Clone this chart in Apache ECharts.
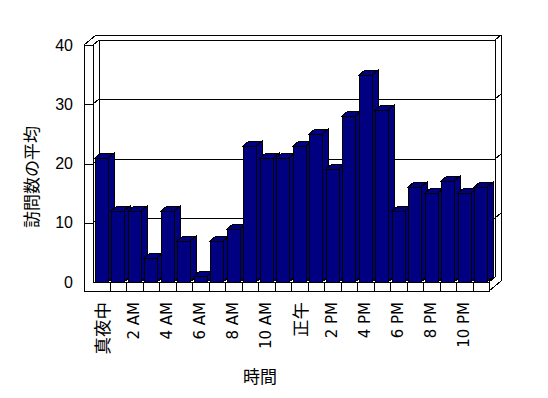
<!DOCTYPE html>
<html>
<head>
<meta charset="utf-8">
<script src="https://cdn.jsdelivr.net/npm/echarts@6/dist/echarts.min.js"></script>
<style>
html,body{margin:0;padding:0;background:#fff;}
#chart{width:548px;height:398px;}
#chart svg path, #chart svg polygon, #chart svg polyline, #chart svg line, #chart svg rect{shape-rendering:crispEdges;}
</style>
</head>
<body>
<div id="chart"></div>
<script>
const categories = ['真夜中','1 AM','2 AM','3 AM','4 AM','5 AM','6 AM','7 AM','8 AM','9 AM','10 AM','11 AM',
  '正午','1 PM','2 PM','3 PM','4 PM','5 PM','6 PM','7 PM','8 PM','9 PM','10 PM','11 PM'];
const visits = [21,12,12,4,12,7,1,7,9,23,21,21,23,25,19,28,35,29,12,16,15,17,15,16];
const yTicks = [0,10,20,30,40];
const yTitle = '訪問数の平均';
const xTitle = '時間';

const DX = 6, DY = -5;      // depth offset
const WALL = 9;             // wall thickness (front face)
const FONT = '"Liberation Sans","Noto Sans CJK JP",sans-serif';
const XFONT = '"DejaVu Sans","Noto Sans CJK JP",sans-serif';
const JFONT = '"Noto Sans CJK JP",sans-serif';
const R = v => Math.round(v);

const chart = echarts.init(document.getElementById('chart'), null, {renderer:'svg'});

function line(pts){
  return {type:'polyline', shape:{points:pts.map(p=>[R(p[0]),R(p[1])])},
          style:{stroke:'#000', lineWidth:1, fill:null}, silent:true};
}

function renderFrame(params, api){
  const band = api.size([1,0])[0];
  const x0 = api.coord([0,0])[0] - band/2;
  const x1 = api.coord([categories.length-1,0])[0] + band/2;
  const yMax = yTicks[yTicks.length-1];
  const yTop = api.coord([0,yMax])[1];
  const y0 = api.coord([0,0])[1];
  const xo = x0 - WALL, yb = y0 + WALL;
  const ch = [];
  ch.push(line([[xo+2*DX, yTop+2*DY],[x1+2*DX, yTop+2*DY],[x1+2*DX, yb+2*DY]]));
  ch.push(line([[x0+DX, y0+DY],[x0+DX, yTop+DY],[x1+DX, yTop+DY],[x1+DX, y0+DY]]));
  ch.push(line([[x1+DX, yTop+DY],[x1+2*DX, yTop+2*DY]]));
  ch.push(line([[xo, yb],[xo, yTop],[x0, yTop],[x0, y0]]));
  ch.push(line([[xo, yTop],[xo+2*DX, yTop+2*DY]]));
  ch.push(line([[x0, yTop],[x0+DX, yTop+DY]]));
  yTicks.forEach(v => {
    if (v === 0 || v === yMax) return;
    const y = api.coord([0,v])[1];
    ch.push(line([[xo, y],[x0, y],[x0+DX, y+DY],[x1+DX, y+DY],[x1+2*DX, y+2*DY]]));
  });
  ch.push(line([[x0+DX, y0+DY],[x1+DX, y0+DY]]));
  ch.push(line([[x0, y0],[x1, y0],[x1, yb],[xo, yb]]));
  ch.push(line([[x1, y0],[x1+DX, y0+DY]]));
  ch.push(line([[x1, yb],[x1+2*DX, yb+2*DY]]));
  for (let i=1;i<categories.length;i++){
    const x = x0 + band*i;
    ch.push(line([[x, y0],[x, yb]]));
  }
  return {type:'group', children:ch};
}

function renderBar(params, api){
  const i = api.value(0), v = api.value(1);
  const band = api.size([1,0])[0];
  const w = band*0.8;
  const c = api.coord([i, v]);
  const base = R(api.coord([i, 0])[1]);
  const fx0 = R(c[0] - w/2), fx1 = R(c[0] + w/2);
  const top = R(c[1]);
  const st = {fill:'#000080', stroke:'#000', lineWidth:1};
  return {type:'group', children:[
    {type:'polygon', shape:{points:[[fx0,top],[fx1,top],[fx1+DX,top+DY],[fx0+DX,top+DY]]}, style:st},
    {type:'polygon', shape:{points:[[fx1,top],[fx1+DX,top+DY],[fx1+DX,base+DY],[fx1,base]]}, style:st},
    {type:'rect', shape:{x:fx0, y:top, width:fx1-fx0, height:base-top}, style:st}
  ]};
}

chart.setOption({
  animation:false,
  backgroundColor:'#fff',
  grid:{left:93, right:59, top:45, bottom:116},
  xAxis:{type:'category', data:categories, boundaryGap:true,
    axisLine:{show:false}, axisTick:{show:false}, splitLine:{show:false},
    axisLabel:{interval:1, rotate:90, margin:20, fontSize:15, color:'#000', fontFamily:XFONT,
      formatter: s => /[^\x00-\x7f]/.test(s) ? '{j|' + s + '}' : s,
      rich:{j:{fontSize:17.5, fontFamily:JFONT, color:'#000'}}}},
  yAxis:{type:'value', min:0, max:40, interval:10,
    axisLine:{show:false}, axisTick:{show:false}, splitLine:{show:false},
    axisLabel:{margin:20, fontSize:16, color:'#000', fontFamily:FONT}},
  graphic:[
    {type:'text', x:30, y:177, rotation:Math.PI/2,
     style:{text:yTitle, fontSize:17, fill:'#000', fontFamily:JFONT, textAlign:'center', textVerticalAlign:'middle'}},
    {type:'text', x:260, y:375,
     style:{text:xTitle, fontSize:17, fill:'#000', fontFamily:JFONT, textAlign:'center', textVerticalAlign:'middle'}}
  ],
  series:[
    {type:'custom', name:'frame', data:[[0,0]], renderItem:renderFrame, z:1, silent:true, clip:false},
    {type:'custom', name:'訪問数の平均', data:visits.map((v,i)=>[i,v]), renderItem:renderBar, z:2, clip:false,
     encode:{x:0,y:1}}
  ]
});
</script>
</body>
</html>
